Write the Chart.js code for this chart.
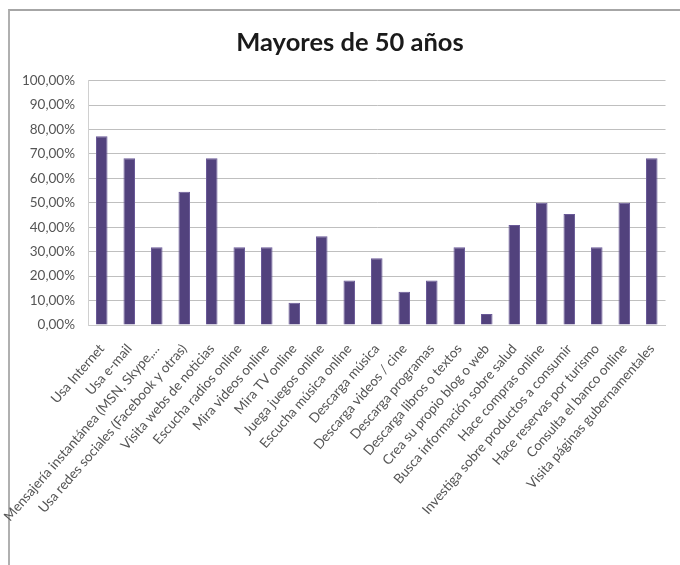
<!DOCTYPE html>
<html>
<head>
<meta charset="utf-8">
<script src="https://cdn.jsdelivr.net/npm/chart.js@4"></script>
<style>
  html, body { margin: 0; padding: 0; background: #fff; }
  #frame { position: absolute; left: 8px; top: 9px; width: 700px; height: 600px;
           border-top: 2px solid #a6a6a6; border-left: 2px solid #b0b0b0; }
  #wrap { position: absolute; left: 0; top: 0; width: 680px; height: 565px; }
</style>
</head>
<body>
<div id="frame"></div>
<div id="wrap"><canvas id="c" width="680" height="565"></canvas></div>
<script>
const titleText = "Mayores de 50 años";
const categories = [
  "Usa Internet",
  "Usa e-mail",
  "Mensajería instantánea (MSN, Skype,...",
  "Usa redes sociales (Facebook y otras)",
  "Visita webs de noticias",
  "Escucha radios online",
  "Mira videos online",
  "Mira TV online",
  "Juega juegos online",
  "Escucha música online",
  "Descarga música",
  "Descarga videos / cine",
  "Descarga programas",
  "Descarga libros o textos",
  "Crea su propio blog o web",
  "Busca información sobre salud",
  "Hace compras online",
  "Investiga sobre productos a consumir",
  "Hace reservas por turismo",
  "Consulta el banco online",
  "Visita páginas gubernamentales"
];
const values = [77.27, 68.18, 31.82, 54.55, 68.18, 31.82, 31.82, 9.09, 36.36, 18.18, 27.27,
                13.64, 18.18, 31.82, 4.55, 40.91, 50.00, 45.45, 31.82, 50.00, 68.18];
const yTicks = [0, 10, 20, 30, 40, 50, 60, 70, 80, 90, 100];

new Chart(document.getElementById('c'), {
  type: 'bar',
  data: {
    labels: categories,
    datasets: [{
      data: values,
      backgroundColor: '#52427d',
      borderColor: '#6a5a98',
      borderWidth: 1,
      barPercentage: 0.42,
      categoryPercentage: 1
    }]
  },
  options: {
    responsive: false,
    animation: false,
    devicePixelRatio: 1,
    layout: { padding: { left: 20, right: 0, top: 0, bottom: 0 } },
    plugins: {
      legend: { display: false },
      tooltip: { enabled: false },
      title: {
        display: true,
        text: titleText,
        color: '#1a1a1a',
        font: { family: 'Lato', size: 25.5, weight: 'bold' },
        padding: { top: 27, bottom: 23 }
      }
    },
    scales: {
      x: {
        grid: { display: false, drawTicks: false },
        border: { display: true, color: '#c8c8c8' },
        ticks: {
          color: '#555',
          font: { family: 'Lato', size: 13.5 },
          minRotation: 49,
          maxRotation: 49,
          autoSkip: false,
          padding: 16
        },
        afterFit: (s) => { s.height = 240; }
      },
      y: {
        min: 0,
        max: 100,
        afterBuildTicks: (s) => { s.ticks = yTicks.map(v => ({ value: v })); },
        grid: { color: '#bfbfbf', lineWidth: 1, drawTicks: false },
        border: { display: true, color: '#d0d0d0' },
        ticks: {
          color: '#555',
          font: { family: 'Lato', size: 13.5 },
          padding: 13,
          callback: (v) => v.toFixed(2).replace('.', ',') + '%'
        },
        afterFit: (s) => { s.width = 68; }
      }
    }
  }
});
</script>
</body>
</html>
